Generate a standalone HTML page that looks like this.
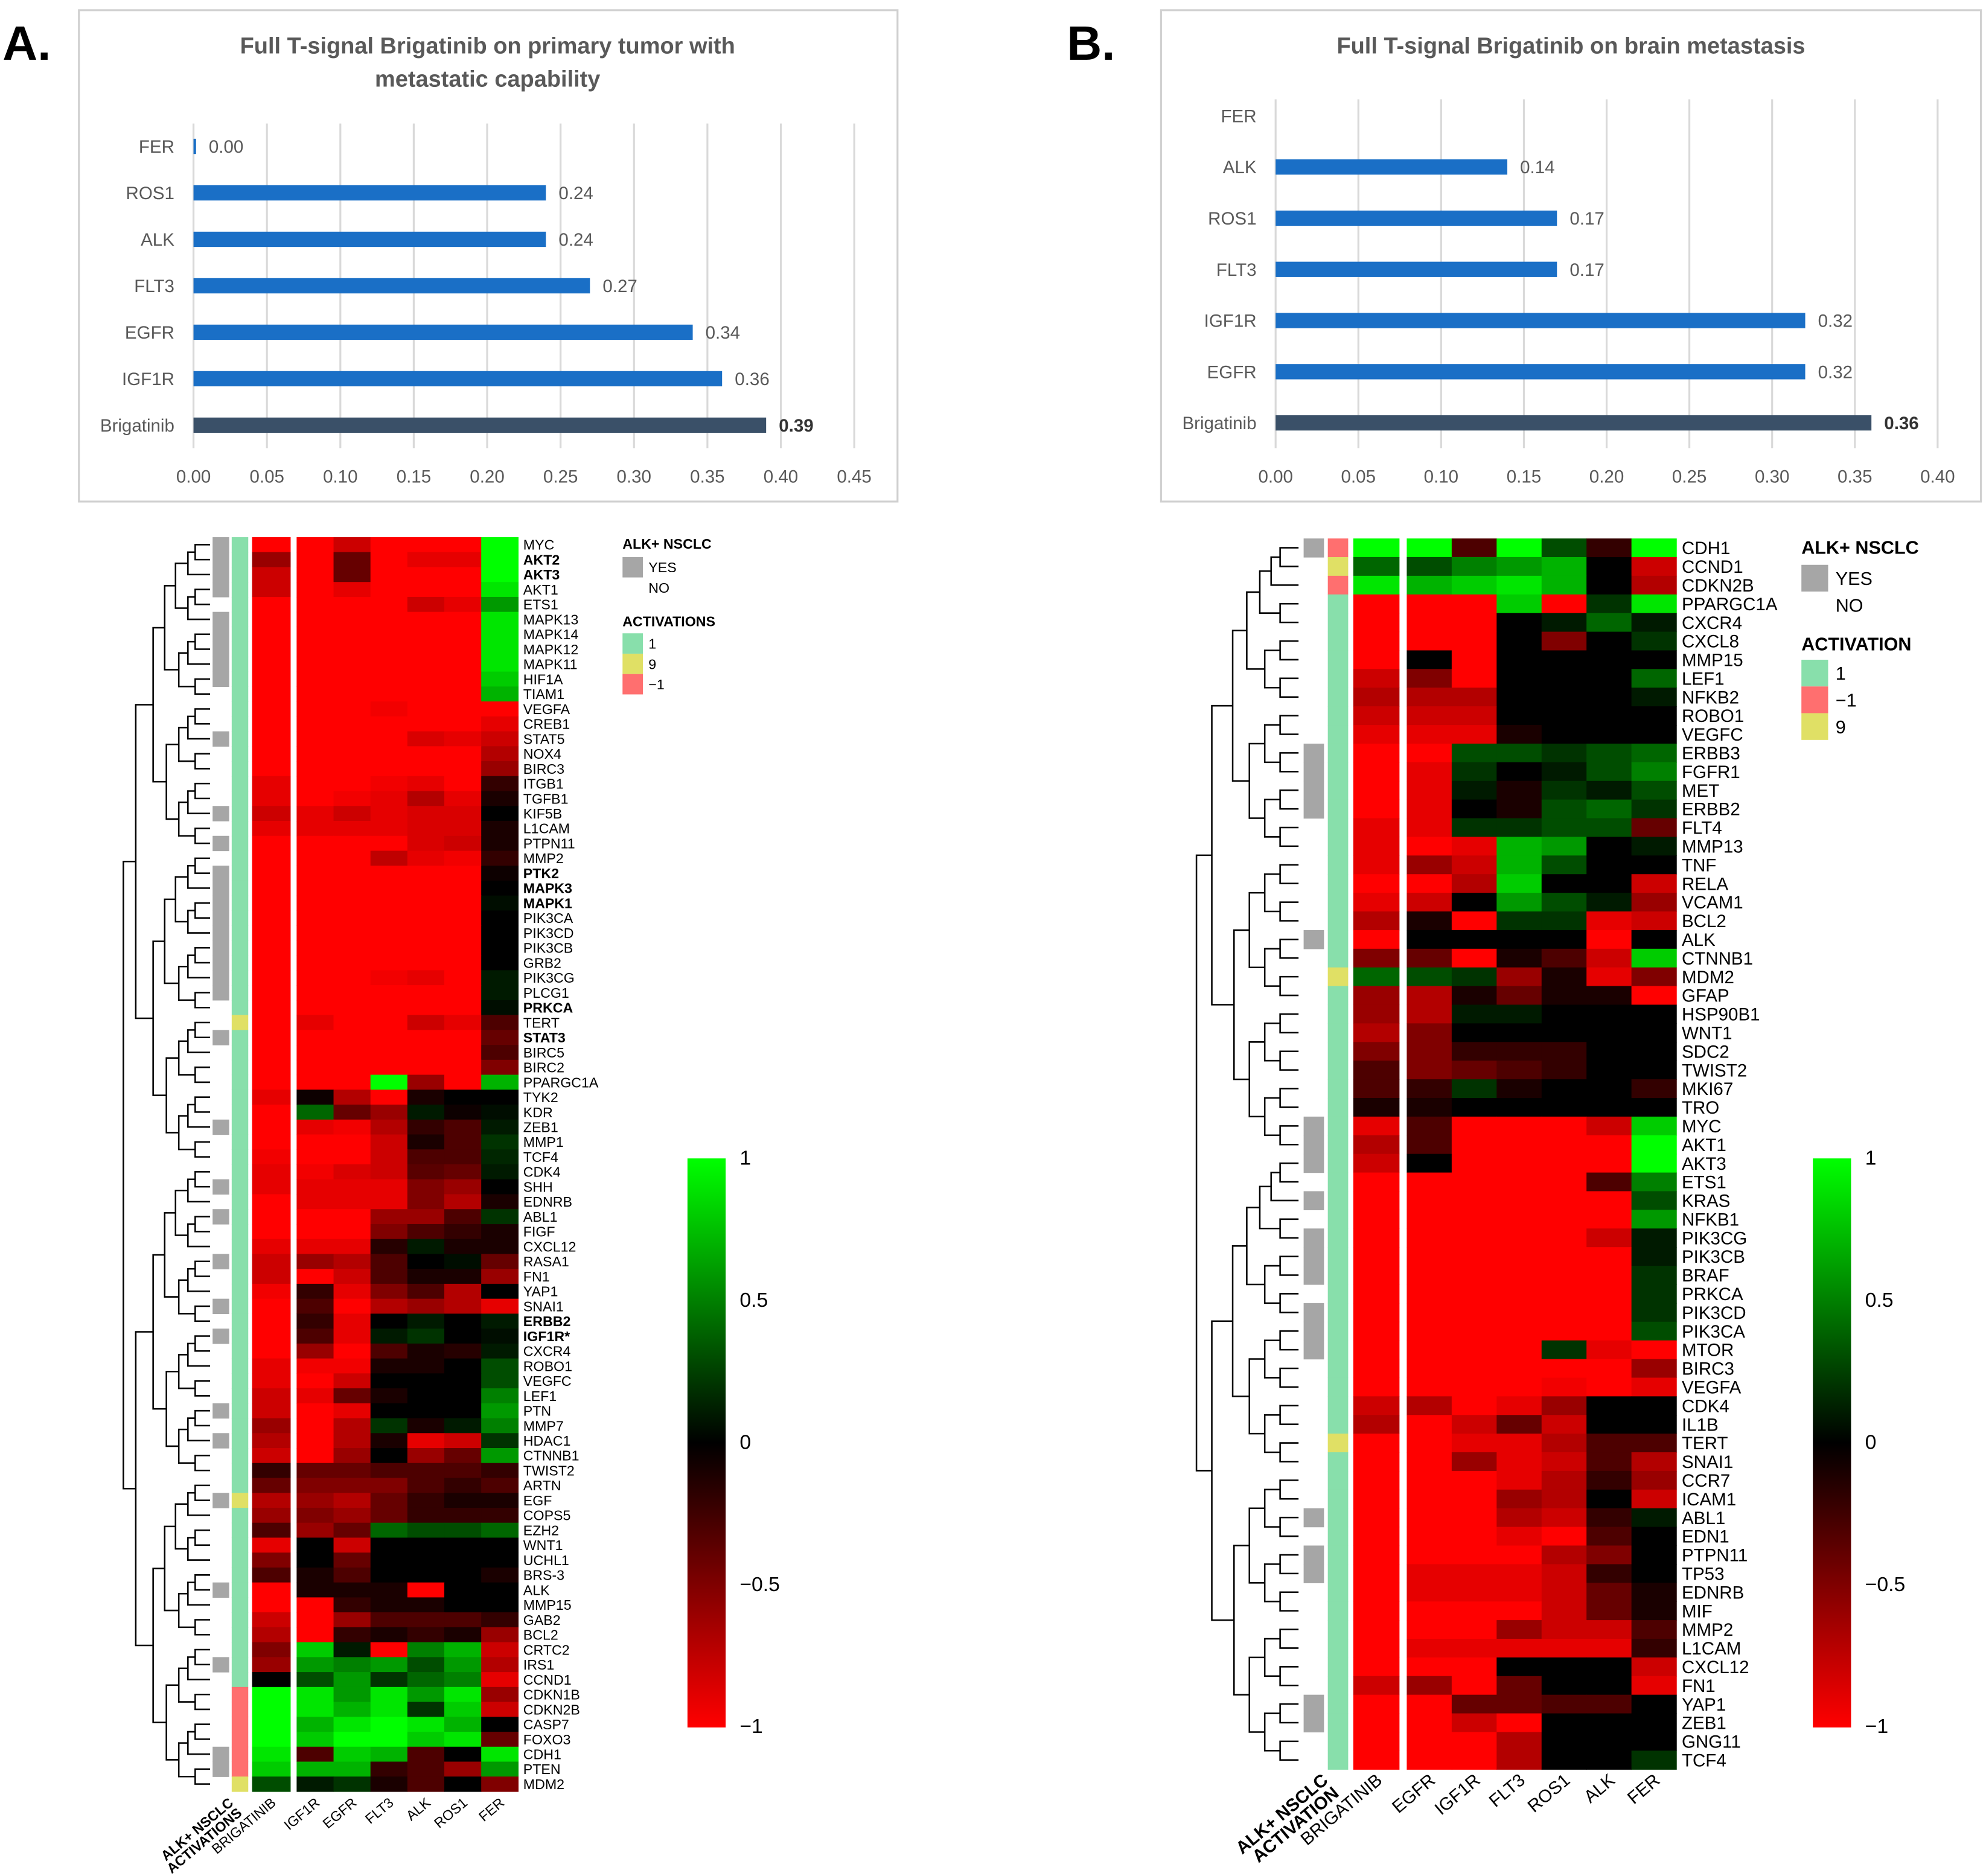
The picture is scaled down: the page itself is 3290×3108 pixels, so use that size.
<!DOCTYPE html>
<html><head><meta charset="utf-8"><style>html,body{margin:0;padding:0;background:#fff}svg{display:block}</style></head>
<body>
<svg id="fig" xmlns="http://www.w3.org/2000/svg" width="3290" height="3108" viewBox="0 0 1560 1473.7" font-family="Liberation Sans, sans-serif">
<rect width="1560" height="1474" fill="#fff"/>
<text x="2" y="47" font-size="38" font-weight="bold">A.</text>
<text x="838" y="47" font-size="38" font-weight="bold">B.</text>
<g id="barA"></g>
<g id="barB"></g>
<g id="hmA"></g>
<g id="hmB"></g>
</svg>
<script>
const NS="http://www.w3.org/2000/svg";
// ---- Bar chart data ----
const barCatsA=["FER","ROS1","ALK","FLT3","EGFR","IGF1R","Brigatinib"];
const barValsA=[0.00,0.24,0.24,0.27,0.34,0.36,0.39];
const barTicksA=["0.00","0.05","0.10","0.15","0.20","0.25","0.30","0.35","0.40","0.45"];
const barCatsB=["FER","ALK","ROS1","FLT3","IGF1R","EGFR","Brigatinib"];
const barValsB=[0.00,0.14,0.17,0.17,0.32,0.32,0.36];
const barTicksB=["0.00","0.05","0.10","0.15","0.20","0.25","0.30","0.35","0.40"];
// ---- Heatmap A data ----
const genesA=["MYC","AKT2","AKT3","AKT1","ETS1","MAPK13","MAPK14","MAPK12","MAPK11","HIF1A","TIAM1","VEGFA","CREB1","STAT5","NOX4","BIRC3","ITGB1","TGFB1","KIF5B","L1CAM","PTPN11","MMP2","PTK2","MAPK3","MAPK1","PIK3CA","PIK3CD","PIK3CB","GRB2","PIK3CG","PLCG1","PRKCA","TERT","STAT3","BIRC5","BIRC2","PPARGC1A","TYK2","KDR","ZEB1","MMP1","TCF4","CDK4","SHH","EDNRB","ABL1","FIGF","CXCL12","RASA1","FN1","YAP1","SNAI1","ERBB2","IGF1R*","CXCR4","ROBO1","VEGFC","LEF1","PTN","MMP7","HDAC1","CTNNB1","TWIST2","ARTN","EGF","COPS5","EZH2","WNT1","UCHL1","BRS-3","ALK","MMP15","GAB2","BCL2","CRTC2","IRS1","CCND1","CDKN1B","CDKN2B","CASP7","FOXO3","CDH1","PTEN","MDM2"];
const boldA=["AKT2","AKT3","PTK2","MAPK3","MAPK1","PRKCA","STAT3","ERBB2","IGF1R*"];
const colsA=["BRIGATINIB","IGF1R","EGFR","FLT3","ALK","ROS1","FER"];
const valsA=[
[-1,-1,-0.8,-1,-1,-1,1],[-0.6,-1,-0.4,-1,-0.9,-0.9,1],[-0.8,-1,-0.4,-1,-1,-1,1],[-0.8,-1,-0.9,-1,-1,-1,0.9],[-1,-1,-1,-1,-0.8,-0.9,0.6],
[-1,-1,-1,-1,-1,-1,0.9],[-1,-1,-1,-1,-1,-1,0.9],[-1,-1,-1,-1,-1,-1,0.9],[-1,-1,-1,-1,-1,-1,0.9],[-1,-1,-1,-1,-1,-1,0.8],[-1,-1,-1,-1,-1,-1,0.7],
[-1,-1,-1,-0.95,-1,-1,-1],[-1,-1,-1,-1,-1,-1,-0.9],[-1,-1,-1,-1,-0.85,-0.9,-0.8],[-1,-1,-1,-1,-1,-1,-0.7],[-1,-1,-1,-1,-1,-1,-0.6],
[-0.9,-1,-1,-0.95,-0.9,-1,-0.2],[-0.9,-1,-0.95,-0.9,-0.7,-0.9,-0.1],[-0.8,-0.9,-0.8,-0.9,-0.85,-0.85,0],[-0.9,-0.9,-0.9,-0.9,-0.85,-0.85,-0.1],[-1,-1,-1,-1,-0.85,-0.8,-0.1],[-1,-1,-1,-0.75,-0.9,-0.95,-0.2],
[-1,-1,-1,-1,-1,-1,-0.05],[-1,-1,-1,-1,-1,-1,0],[-1,-1,-1,-1,-1,-1,0.05],[-1,-1,-1,-1,-1,-1,0],[-1,-1,-1,-1,-1,-1,0],[-1,-1,-1,-1,-1,-1,0],[-1,-1,-1,-1,-1,-1,0],
[-1,-1,-1,-0.95,-0.9,-1,0.1],[-1,-1,-1,-1,-1,-1,0.1],[-1,-1,-1,-1,-1,-1,0.05],[-1,-0.9,-1,-1,-0.8,-0.9,-0.3],[-1,-1,-1,-1,-1,-1,-0.4],[-1,-1,-1,-1,-1,-1,-0.3],[-1,-1,-1,-1,-1,-1,-0.5],
[-1,-1,-1,1,-0.6,-1,0.7],[-0.9,-0.05,-0.7,-1,-0.1,0,0],[-1,0.4,-0.4,-0.6,0.1,-0.05,0.05],[-1,-0.9,-0.95,-0.7,-0.2,-0.3,0.1],[-1,-1,-1,-0.8,-0.1,-0.3,0.2],[-0.95,-1,-1,-0.8,-0.3,-0.3,0.15],
[-0.9,-0.95,-0.85,-0.8,-0.35,-0.4,0.1],[-0.9,-0.9,-0.9,-0.9,-0.5,-0.6,0],[-1,-0.9,-0.9,-0.9,-0.5,-0.7,-0.1],[-1,-1,-1,-0.6,-0.6,-0.3,0.2],[-1,-1,-1,-0.5,-0.3,-0.2,-0.1],
[-0.9,-0.9,-0.9,-0.15,0.1,-0.1,-0.1],[-0.8,-0.6,-0.7,-0.3,0,0.05,-0.4],[-0.8,-1,-0.8,-0.3,-0.1,-0.1,-0.6],[-0.95,-0.2,-0.9,-0.5,-0.3,-0.7,0],[-1,-0.3,-1,-0.7,-0.6,-0.7,-0.9],
[-1,-0.2,-0.9,0,0.1,0,0.1],[-1,-0.3,-0.9,0.1,0.2,0,0.05],[-1,-0.6,-1,-0.3,-0.1,-0.15,0.1],[-0.9,-0.95,-0.95,-0.1,-0.1,0,0.3],[-0.9,-1,-0.8,0,0,0,0.3],[-0.8,-0.9,-0.4,-0.1,0,0,0.5],
[-0.8,-1,-0.9,0,0,0,0.6],[-0.6,-1,-0.7,0.2,-0.1,0.1,0.5],[-0.7,-1,-0.7,-0.1,-0.9,-0.8,0.2],[-0.8,-1,-0.6,0,-0.6,-0.4,0.6],
[-0.2,-0.4,-0.4,-0.3,-0.3,-0.3,-0.2],[-0.4,-0.5,-0.5,-0.5,-0.3,-0.2,-0.3],[-0.7,-0.6,-0.7,-0.4,-0.2,-0.1,-0.1],[-0.6,-0.5,-0.6,-0.4,-0.2,-0.2,-0.2],[-0.3,-0.6,-0.4,0.4,0.3,0.3,0.4],
[-0.9,0,-0.8,0,0,0,0],[-0.5,0,-0.4,0,0,0,0],[-0.3,-0.1,-0.3,0,0,0,-0.1],[-1,-0.1,-0.1,-0.1,-1,0,0],[-1,-1,-0.2,-0.1,-0.1,0,0],[-0.8,-1,-0.6,-0.3,-0.3,-0.3,-0.2],[-0.7,-1,-0.2,-0.1,-0.2,-0.1,-0.6],
[-0.5,0.8,0.1,-1,0.5,0.7,-0.8],[-0.6,0.6,0.5,0.6,0.3,0.6,-0.7],[0,0.3,0.6,0.2,0.4,0.5,-0.9],[1,0.9,0.6,0.9,0.6,0.9,-0.6],[1,0.9,0.7,0.9,0.2,0.8,-0.8],[1,0.7,0.9,1,0.9,0.7,0],[1,0.8,1,1,0.8,0.9,-0.4],
[0.9,-0.3,0.8,0.7,-0.3,0,0.9],[0.8,0.7,0.7,-0.2,-0.3,-0.6,0.6],[0.3,0.1,0.2,-0.1,-0.3,0,-0.5]];
const alkYesA=[0,1,2,3,5,6,7,8,9,13,18,20,22,23,24,25,26,27,28,29,30,33,39,43,45,48,51,53,58,60,64,70,75,81,82];
const activA=genesA.map((g,i)=> i==32||i==64||i==83 ? 9 : (i>=77&&i<=82 ? -1 : 1));
// ---- Heatmap B data ----
const genesB=["CDH1","CCND1","CDKN2B","PPARGC1A","CXCR4","CXCL8","MMP15","LEF1","NFKB2","ROBO1","VEGFC","ERBB3","FGFR1","MET","ERBB2","FLT4","MMP13","TNF","RELA","VCAM1","BCL2","ALK","CTNNB1","MDM2","GFAP","HSP90B1","WNT1","SDC2","TWIST2","MKI67","TRO","MYC","AKT1","AKT3","ETS1","KRAS","NFKB1","PIK3CG","PIK3CB","BRAF","PRKCA","PIK3CD","PIK3CA","MTOR","BIRC3","VEGFA","CDK4","IL1B","TERT","SNAI1","CCR7","ICAM1","ABL1","EDN1","PTPN11","TP53","EDNRB","MIF","MMP2","L1CAM","CXCL12","FN1","YAP1","ZEB1","GNG11","TCF4"];
const colsB=["BRIGATINIB","EGFR","IGF1R","FLT3","ROS1","ALK","FER"];
const valsB=[
[1,1,-0.3,1,0.3,-0.2,1],[0.4,0.3,0.5,0.6,0.7,0,-0.8],[0.9,0.7,0.8,0.9,0.7,0,-0.7],[-1,-1,-1,0.8,-1,0.2,0.9],[-1,-1,-1,0,0.1,0.4,0.1],[-1,-1,-1,0,-0.5,0,0.2],
[-1,0,-1,0,0,0,0],[-0.8,-0.5,-1,0,0,0,0.4],[-0.7,-0.7,-0.7,0,0,0,0.1],[-0.8,-0.8,-0.8,0,0,0,0],[-0.9,-0.9,-0.9,-0.1,0,0,0],
[-1,-1,0.3,0.3,0.2,0.3,0.4],[-1,-0.9,0.2,0,0.1,0.3,0.5],[-1,-0.9,0.1,-0.1,0.2,0.1,0.3],[-1,-0.9,0,-0.1,0.3,0.4,0.2],[-0.9,-0.9,0.2,0.2,0.3,0.3,-0.4],
[-0.9,-1,-0.9,0.7,0.6,0,0.1],[-0.9,-0.6,-0.8,0.7,0.3,0,0],[-1,-1,-0.7,0.8,0,0,-0.8],[-0.9,-0.8,0,0.6,0.3,0.1,-0.6],[-0.7,-0.1,-1,0.2,0.2,-0.9,-0.8],
[-1,0,0,0,0,-1,0],[-0.5,-0.4,-1,-0.1,-0.3,-0.8,0.8],[0.4,0.3,0.2,-0.6,-0.1,-0.9,-0.5],[-0.6,-0.7,-0.1,-0.4,-0.1,-0.1,-1],[-0.6,-0.7,0.1,0.1,0,0,0],
[-0.7,-0.5,0,0,0,0,0],[-0.5,-0.5,-0.2,-0.2,-0.2,0,0],[-0.3,-0.5,-0.4,-0.3,-0.2,0,0],[-0.3,-0.2,0.2,-0.1,0,0,-0.2],[-0.1,-0.1,0,0,0,0,0],
[-0.9,-0.3,-1,-1,-1,-0.8,0.8],[-0.7,-0.3,-1,-1,-1,-1,1],[-0.8,0,-1,-1,-1,-1,1],[-1,-1,-1,-1,-1,-0.3,0.5],[-1,-1,-1,-1,-1,-1,0.3],[-1,-1,-1,-1,-1,-1,0.6],
[-1,-1,-1,-1,-1,-0.8,0.1],[-1,-1,-1,-1,-1,-1,0.1],[-1,-1,-1,-1,-1,-1,0.2],[-1,-1,-1,-1,-1,-1,0.2],[-1,-1,-1,-1,-1,-1,0.2],[-1,-1,-1,-1,-1,-1,0.3],
[-1,-1,-1,-1,0.2,-0.9,-1],[-1,-1,-1,-1,-1,-1,-0.6],[-1,-1,-1,-1,-0.95,-1,-0.9],[-0.8,-0.7,-1,-0.9,-0.6,0,0],[-0.7,-1,-0.8,-0.4,-0.8,0,0],
[-1,-1,-0.9,-0.9,-0.7,-0.3,-0.3],[-1,-1,-0.6,-0.9,-0.8,-0.3,-0.7],[-1,-1,-1,-0.9,-0.7,-0.2,-0.6],[-1,-1,-1,-0.6,-0.7,0,-0.8],[-1,-1,-1,-0.7,-0.8,-0.2,0.1],
[-1,-1,-1,-0.9,-1,-0.3,0],[-1,-1,-1,-1,-0.7,-0.5,0],[-1,-0.9,-0.9,-0.9,-0.8,-0.2,0],[-1,-0.9,-0.9,-0.9,-0.8,-0.4,-0.1],[-1,-1,-1,-1,-0.8,-0.4,-0.1],
[-1,-1,-1,-0.6,-0.8,-0.8,-0.3],[-1,-0.9,-0.9,-0.9,-0.9,-0.9,-0.2],[-1,-1,-1,0,0,0,-0.8],[-0.8,-0.6,-1,-0.4,0,0,-0.9],[-1,-1,-0.4,-0.4,-0.3,-0.3,0],
[-1,-1,-0.8,-1,0,0,0],[-1,-1,-1,-0.7,0,0,0],[-1,-1,-1,-0.7,0,0,0.2]];
const alkYesB=[0,11,12,13,14,21,31,32,33,35,37,38,39,41,42,43,52,54,55,62,63];
const activB=genesB.map((g,i)=> i==0||i==2 ? -1 : (i==1||i==23||i==48 ? 9 : 1));
const legendTicks=["1","0.5","0","\u22120.5","\u22121"];

function el(tag,attrs,parent,text){const e=document.createElementNS(NS,tag);for(const k in attrs)e.setAttribute(k,attrs[k]);if(text!==undefined)e.textContent=text;parent.appendChild(e);return e;}
function heat(v){const t=Math.max(-1,Math.min(1,v));return t<0?`rgb(${Math.round(-t*255)},0,0)`:`rgb(0,${Math.round(t*255)},0)`;}

function barChart(g,cfg){
  const box=el('rect',{x:cfg.bx,y:8,width:cfg.bw,height:386,fill:'#fff',stroke:'#d0d0d0','stroke-width':1.5},g);
  
  cfg.title.forEach((t,i)=>{const e=el('text',{x:cfg.tx,y:42+i*26,'font-size':18,'font-weight':'bold',fill:'#595959','text-anchor':'middle'},g,t);
    });
  const xs=v=>cfg.x0+v*cfg.k;
  cfg.ticks.forEach(t=>{const x=xs(parseFloat(t));
    const l=el('line',{x1:x,x2:x,y1:cfg.gy0,y2:352,stroke:'#d9d9d9','stroke-width':1.5},g);
    const e=el('text',{x:x,y:379,'font-size':14,fill:'#595959','text-anchor':'middle'},g,t);});
  cfg.cats.forEach((c,i)=>{const y=cfg.y0+i*cfg.dy;const last=i==cfg.cats.length-1;
    const lb=el('text',{x:cfg.x0-15,y:y+5,'font-size':14,fill:'#595959','text-anchor':'end'},g,c);
    const w=Math.max(cfg.vals[i]*cfg.k,cfg.vals[i]===0&&cfg.showZero?2:0);
    const r=el('rect',{x:cfg.x0,y:y-6,width:w,height:12,fill:last?'#3a5068':'#1a6fc6'},g);
    if(cfg.vals[i]>0||cfg.showZero){const v=el('text',{x:cfg.x0+w+10,y:y+5,'font-size':14,fill:last?'#333':'#595959','font-weight':last?'bold':'normal'},g,cfg.vals[i].toFixed(2));
      }
  });
}
barChart(document.getElementById('barA'),{bx:62,bw:643,tx:383,title:["Full T-signal Brigatinib on primary tumor with","metastatic capability"],x0:152,k:(671-152)/0.45,ticks:barTicksA,cats:barCatsA,vals:barValsA,y0:115,dy:36.5,gy0:97,showZero:true});
barChart(document.getElementById('barB'),{bx:912,bw:644,tx:1234,title:["Full T-signal Brigatinib on brain metastasis"],x0:1002,k:(1522-1002)/0.40,ticks:barTicksB,cats:barCatsB,vals:barValsB,y0:91,dy:40.2,gy0:78,showZero:false});

function dendro(g,n,top,rh,xr,xl){
  const maxH=Math.log2(n)+1;const sc=(xr-xl)/maxH;
  function rec(lo,hi){
    if(lo==hi)return {y:top+(lo+0.5)*rh,x:xr};
    const mid=Math.floor((lo+hi)/2);const a=rec(lo,mid),b=rec(mid+1,hi);
    const x=xr-(Math.log2(hi-lo+1)+ (hi-lo>20?0.6:0.2))*sc;
    el('path',{d:`M${a.x},${a.y}H${x}V${b.y}H${b.x}`,fill:'none',stroke:'#000','stroke-width':1.2},g);
    return {y:(a.y+b.y)/2,x:x};
  }
  rec(0,n-1);
}

function heatmap(g,cfg){
  const ys=i=>cfg.top+i*cfg.rh;
  const dg=el('g',{},g);
  dendro(dg,cfg.genes.length,cfg.top,cfg.rh,cfg.dR,cfg.dL);
  cfg.genes.forEach((gname,i)=>{
    if(cfg.alk.includes(i)){const r=el('rect',{x:cfg.ax,y:ys(i),width:cfg.aw,height:cfg.rh+0.3,fill:'#a6a6a6'},g);}
    const ac=cfg.act[i];const ar=el('rect',{x:cfg.cx,y:ys(i),width:cfg.aw,height:cfg.rh+0.3,fill:ac==1?'#88dfab':ac==9?'#e0e065':'#ff6f6f'},g);
    
    cfg.vals[i].forEach((v,j)=>{const x=j==0?cfg.bx:cfg.hx+(j-1)*cfg.cw;const w=j==0?cfg.bw:cfg.cw;
      const c=el('rect',{x:x,y:ys(i),width:w+0.3,height:cfg.rh+0.3,fill:heat(v)},g);});
    const t=el('text',{x:cfg.lx,y:ys(i)+cfg.rh*0.5+cfg.fs*0.36,'font-size':cfg.fs,'font-weight':(cfg.bold||[]).includes(gname)?'bold':'normal'},g,gname);
    
  });
  // column labels
  const colX=[cfg.ax+cfg.aw/2+2,cfg.bx+cfg.bw/2];for(let j=1;j<7;j++)colX.push(cfg.hx+(j-0.5)*cfg.cw);
  const by=cfg.top+cfg.genes.length*cfg.rh+10;
  const an=el('text',{transform:`translate(${cfg.ax+cfg.aw+4},${by}) rotate(-40)`,'font-size':cfg.fs,'font-weight':'bold','text-anchor':'end'},g);
  
  el('tspan',{x:0,dy:0},an,'ALK+ NSCLC');el('tspan',{x:0,dy:cfg.fs*0.95},an,cfg.actTitle);
  cfg.cols.forEach((c,j)=>{const t=el('text',{transform:`translate(${colX[j+1]+cfg.fs*0.4},${by}) rotate(-40)`,'font-size':cfg.fs,'text-anchor':'end'},g,c);
    });
  // legends
  const L=cfg.leg;const f=L.fs;
  const t1=el('text',{x:L.x,y:L.y,'font-size':f,'font-weight':'bold'},g,'ALK+ NSCLC');
  const yb=el('rect',{x:L.x,y:L.y+f*0.6,width:L.s,height:L.s,fill:'#a6a6a6'},g);
  const yt=el('text',{x:L.x+L.s+f*0.4,y:L.y+f*0.6+L.s*0.75,'font-size':f},g,'YES');
  const nt=el('text',{x:L.x+L.s+f*0.4,y:L.y+f*0.6+L.s*1.75,'font-size':f},g,'NO');
  const at=el('text',{x:L.x,y:L.ay,'font-size':f,'font-weight':'bold'},g,L.actTitle);
  L.items.forEach((it,k)=>{const y=L.ay+f*0.5+k*L.s;
    const r=el('rect',{x:L.x,y:y,width:L.s,height:L.s,fill:it[1]},g);
    const t=el('text',{x:L.x+L.s+f*0.4,y:y+L.s*0.75,'font-size':f},g,it[0]);});
  // color bar
  const gid='grad'+cfg.id;const defs=el('defs',{},g);const lg=el('linearGradient',{id:gid,x1:0,y1:0,x2:0,y2:1},defs);
  el('stop',{offset:'0','stop-color':'#00ff00'},lg);el('stop',{offset:'0.5','stop-color':'#000'},lg);el('stop',{offset:'1','stop-color':'#ff0000'},lg);
  const cb=el('rect',{x:cfg.cbx,y:910,width:30,height:447,fill:`url(#${gid})`},g);
  legendTicks.forEach((t,k)=>{const e=el('text',{x:cfg.cbx+41,y:915+k*111.6,'font-size':16},g,t);});
}
heatmap(document.getElementById('hmA'),{id:'A',genes:genesA,vals:valsA,cols:colsA,bold:boldA,alk:alkYesA,act:activA,top:422,rh:11.73,
  ax:167,aw:13,cx:182,bx:198,bw:30,hx:233,cw:29,lx:411,fs:11,dR:165,dL:93,actTitle:'ACTIVATIONS',cbx:540,
  leg:{x:489,y:431,fs:11,s:16,ay:492,actTitle:'ACTIVATIONS',items:[['1','#88dfab'],['9','#e0e065'],['\u22121','#ff6f6f']]}});
heatmap(document.getElementById('hmB'),{id:'B',genes:genesB,vals:valsB,cols:colsB,alk:alkYesB,act:activB,top:423,rh:14.65,
  ax:1024,aw:16,cx:1043,bx:1063,bw:36,hx:1105,cw:35.3,lx:1321,fs:14,dR:1020,dL:935,actTitle:'ACTIVATION',cbx:1424,
  leg:{x:1415,y:435,fs:14.5,s:21,ay:511,actTitle:'ACTIVATION',items:[['1','#88dfab'],['\u22121','#ff6f6f'],['9','#e0e065']]}});
</script>
</body></html>
